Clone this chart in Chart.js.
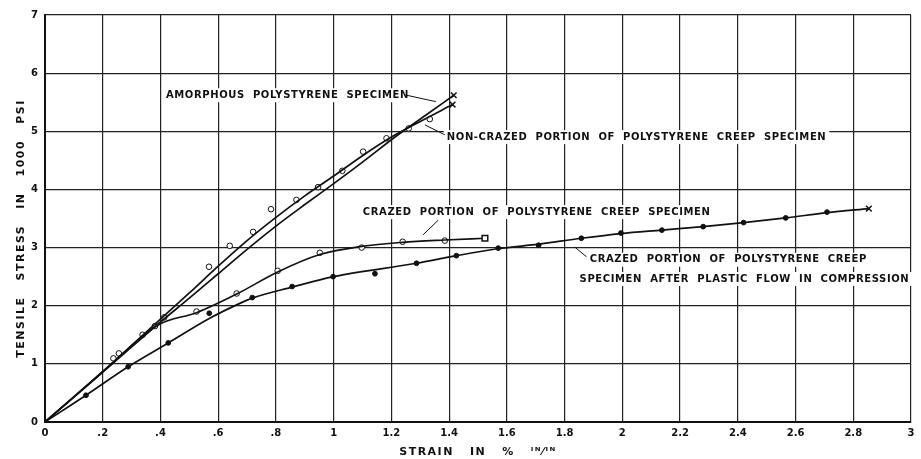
<!DOCTYPE html>
<html lang="en">
<head>
<meta charset="UTF-8">
<title>Tensile stress vs strain</title>
<script src="https://cdn.jsdelivr.net/npm/chart.js"></script>
<style>
    body { margin: 0; background: #fff; }
    #wrap { width: 921px; height: 459px; position: relative; }
</style>
</head>
<body>
<div id="wrap"><canvas id="chart"></canvas></div>
<script>
// strain (%), stress (1000 psi)
const amorphousLine = [[0,0],[0.2,0.86],[0.4,1.72],[0.5,2.13],[0.6,2.55],[0.7,2.97],[0.8,3.37],[0.9,3.74],[1.0,4.10],[1.1,4.47],[1.223,4.94],[1.32,5.28],[1.416,5.62]];
const nonCrazedLine = [[0,0],[0.2,0.87],[0.4,1.77],[0.5,2.22],[0.6,2.68],[0.7,3.12],[0.8,3.52],[0.9,3.89],[1.0,4.23],[1.1,4.58],[1.2,4.90],[1.3,5.17],[1.412,5.46]];
const crazedLine = [[0,0],[0.2,0.86],[0.392,1.67],[0.525,1.88],[0.664,2.2],[0.806,2.58],[0.952,2.88],[1.097,3.02],[1.239,3.09],[1.385,3.13],[1.524,3.16]];
const flowLine = [[0,0],[0.142,0.46],[0.288,0.95],[0.427,1.36],[0.569,1.78],[0.675,2.04],[0.718,2.13],[0.856,2.32],[1.0,2.50],[1.287,2.73],[1.425,2.86],[1.57,2.98],[1.71,3.06],[1.858,3.16],[1.995,3.24],[2.137,3.30],[2.28,3.36],[2.42,3.43],[2.566,3.51],[2.709,3.60],[2.854,3.67]];

const upperCircles = [[0.237,1.095],[0.256,1.18],[0.338,1.50],[0.381,1.65],[0.413,1.80],[0.568,2.67],[0.64,3.03],[0.721,3.27],[0.783,3.66],[0.871,3.82],[0.946,4.04],[1.03,4.32],[1.102,4.65],[1.183,4.88],[1.26,5.05],[1.333,5.21]];
const crazedCircles = [[0.525,1.90],[0.664,2.21],[0.806,2.60],[0.952,2.91],[1.097,3.00],[1.239,3.10],[1.385,3.12]];
const flowDots = [[0.142,0.46],[0.288,0.95],[0.427,1.36],[0.569,1.87],[0.718,2.14],[0.856,2.33],[0.998,2.50],[1.143,2.55],[1.287,2.73],[1.425,2.86],[1.57,2.99],[1.71,3.04],[1.858,3.16],[1.995,3.25],[2.137,3.30],[2.28,3.36],[2.42,3.43],[2.566,3.51],[2.709,3.61]];

const xTicks = [0,0.2,0.4,0.6,0.8,1,1.2,1.4,1.6,1.8,2,2.2,2.4,2.6,2.8,3];
const xTickLabels = ['0','.2','.4','.6','.8','1','1.2','1.4','1.6','1.8','2','2.2','2.4','2.6','2.8','3'];
const yTickLabels = ['0','1','2','3','4','5','6','7'];

const xTitle = 'STRAIN   IN   %   ᴵᴺ⁄ᴵᴺ';
const yTitle = 'TENSILE   STRESS   IN   1000   PSI';

// annotation texts, anchored in data units
const notes = [
    { lines: ['AMORPHOUS  POLYSTYRENE  SPECIMEN'], x: 0.419, y: 5.62, leader: [[1.253,5.62],[1.354,5.51]] },
    { lines: ['NON-CRAZED  PORTION  OF  POLYSTYRENE  CREEP  SPECIMEN'], x: 1.392, y: 4.90, leader: [[1.316,5.11],[1.385,4.94]] },
    { lines: ['CRAZED  PORTION  OF  POLYSTYRENE  CREEP  SPECIMEN'], x: 1.101, y: 3.61, leader: [[1.362,3.47],[1.31,3.22]] },
    { lines: ['CRAZED  PORTION  OF  POLYSTYRENE  CREEP', 'SPECIMEN  AFTER  PLASTIC  FLOW  IN  COMPRESSION'], x: 1.887, y: 2.79, x2: 1.852, y2: 2.46, leader: [[1.835,3.01],[1.876,2.84]] }
];

const pts = arr => arr.map(p => ({ x: p[0], y: p[1] }));

function curve(data, endMarker) {
    return {
        type: 'line',
        data: pts(data),
        borderColor: '#111',
        borderWidth: 1.7,
        cubicInterpolationMode: 'monotone',
        fill: false,
        pointRadius: data.map((p, i) => i === data.length - 1 ? 4 : 0),
        pointStyle: endMarker,
        pointBorderColor: '#111',
        pointBackgroundColor: endMarker === 'rect' ? '#fff' : '#111',
        pointBorderWidth: 1.5
    };
}

function markers(data, open) {
    return {
        type: 'scatter',
        data: pts(data),
        pointRadius: open ? 2.8 : 2.4,
        pointBorderWidth: 1,
        pointBorderColor: '#111',
        pointBackgroundColor: open ? '#fff' : '#111',
        showLine: false
    };
}

const FONT = 'bold 10px "DejaVu Sans", sans-serif';

const notePlugin = {
    id: 'notes',
    afterDatasetsDraw(chart) {
        const c = chart.ctx, xs = chart.scales.x, ys = chart.scales.y;
        c.save();
        c.font = FONT;
        c.letterSpacing = '0.6px';
        c.textBaseline = 'middle';
        c.fillStyle = '#111';
        c.strokeStyle = '#111';
        c.lineWidth = 1;
        notes.forEach(n => {
            n.lines.forEach((t, i) => {
                const px = xs.getPixelForValue(i === 0 ? n.x : n.x2);
                const py = ys.getPixelForValue(i === 0 ? n.y : n.y2);
                const w = c.measureText(t).width;
                c.fillStyle = '#fff';
                c.fillRect(px - 3, py - 7, w + 6, 14);
                c.fillStyle = '#111';
                c.fillText(t, px, py);
            });
            c.beginPath();
            c.moveTo(xs.getPixelForValue(n.leader[0][0]), ys.getPixelForValue(n.leader[0][1]));
            c.lineTo(xs.getPixelForValue(n.leader[1][0]), ys.getPixelForValue(n.leader[1][1]));
            c.stroke();
        });

        // axis titles
        const a = chart.chartArea;
        c.font = 'bold 11px "DejaVu Sans", sans-serif';
        c.letterSpacing = '1.5px';
        c.textAlign = 'center';
        c.fillText(xTitle, (a.left + a.right) / 2, 452);
        c.translate(21, (a.top + a.bottom) / 2 + 10);
        c.rotate(-Math.PI / 2);
        c.fillText(yTitle, 0, 0);
        c.restore();
    }
};

new Chart(document.getElementById('chart'), {
    data: {
        datasets: [
            curve(amorphousLine, 'crossRot'),
            curve(nonCrazedLine, 'crossRot'),
            curve(crazedLine, 'rect'),
            curve(flowLine, 'crossRot'),
            markers(upperCircles, true),
            markers(crazedCircles, true),
            markers(flowDots, false)
        ]
    },
    options: {
        responsive: true,
        maintainAspectRatio: false,
        animation: false,
        layout: { padding: { top: 15, right: 10, left: 0, bottom: 0 } },
        plugins: { legend: { display: false }, tooltip: { enabled: false } },
        scales: {
            x: {
                type: 'linear',
                min: 0, max: 3,
                afterBuildTicks: s => { s.ticks = xTicks.map(v => ({ value: v })); },
                afterFit: s => { s.height = 37; },
                ticks: {
                    callback: (v, i) => xTickLabels[i],
                    color: '#111',
                    font: { family: '"DejaVu Sans", sans-serif', size: 10, weight: 'bold' },
                    padding: 5,
                    maxRotation: 0,
                    autoSkip: false
                },
                grid: { color: '#222', lineWidth: 1.2, drawTicks: false },
                border: { color: '#111', width: 2 }
            },
            y: {
                min: 0, max: 7,
                afterFit: s => { s.width = 45; },
                ticks: {
                    stepSize: 1,
                    callback: (v) => yTickLabels[v],
                    color: '#111',
                    font: { family: '"DejaVu Sans", sans-serif', size: 10, weight: 'bold' },
                    padding: 7
                },
                grid: { color: '#222', lineWidth: 1.2, drawTicks: false },
                border: { color: '#111', width: 2 }
            }
        }
    },
    plugins: [notePlugin]
});
</script>
</body>
</html>
